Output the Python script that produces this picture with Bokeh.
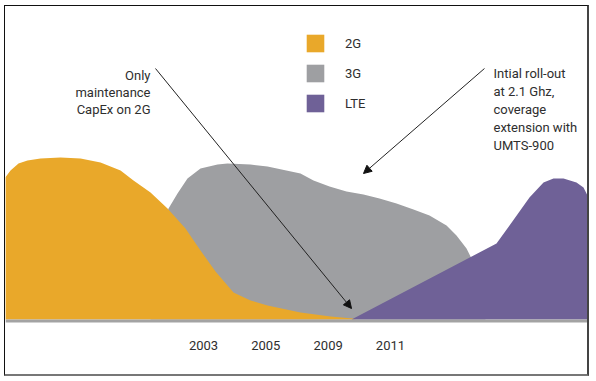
from bokeh.plotting import figure
from bokeh.models import (Range1d, FixedTicker, Span, Arrow, NormalHead, Legend, LegendItem)
from bokeh.core.properties import value
from bokeh.embed import file_html
from bokeh.resources import INLINE

# ---- data (x in period index units, y = relative CapEx level) ----
tick_pos = [3, 4, 5, 6]
tick_labels = ["2003", "2005", "2009", "2011"]

x_2g = [-0.18, -0.096, 0.032, 0.176, 0.385, 0.706, 1.027, 1.348, 1.669, 1.877, 2.150, 2.423,
        2.711, 2.952, 3.193, 3.481, 3.754, 4.027, 4.556, 5.038, 5.391, 5.455]
y_2g = [142, 149, 156, 159, 161, 162, 161, 157, 149, 139, 127, 111,
        91, 69, 48, 27, 19, 14, 7, 3, 1, 0]

x_3g = [2.150, 2.278, 2.391, 2.439, 2.583, 2.743, 2.952, 3.225, 3.385, 3.754, 4.027, 4.556,
        4.765, 5.022, 5.294, 5.567, 5.824, 6.097, 6.369, 6.626, 6.899, 7.059, 7.220, 7.316, 7.525]
y_3g = [0, 59, 101, 111, 126, 141, 151, 155, 156, 155, 153, 146,
        139, 133, 128, 125, 121, 116, 110, 104, 94, 84, 71, 59, 0]

x_lte = [5.375, 7.701, 7.910, 8.230, 8.455, 8.615, 8.776, 8.984, 9.097, 9.177, 9.193, 9.21, 9.25]
y_lte = [0, 76, 94, 122, 137, 141, 141, 137, 132, 122, 106, 100, 0]

series_names = ["2G", "3G", "LTE"]
colors = {"2G": "#E9A82A", "3G": "#9E9FA2", "LTE": "#6F6197"}

note_left = ["Only", "maintenance", "CapEx on 2G"]
note_right = ["Intial roll-out", "at 2.1 Ghz,", "coverage", "extension with", "UMTS-900"]

FONT = "Roboto"
TXT = "#2e2e2e"

p = figure(width=585, height=371,
           x_range=Range1d(-0.1765, 9.209), y_range=Range1d(-4, 313),
           output_backend="svg", toolbar_location=None,
           min_border_left=0, min_border_right=0, min_border_top=0, min_border_bottom=54,
           y_axis_location=None, outline_line_color=None)
p.styles = {"margin-left": "4px", "margin-top": "5px",
            "border-left": "1px solid #111", "border-top": "1px solid #111",
            "border-right": "2px solid #444", "border-bottom": "2px solid #777"}
p.xgrid.visible = False
p.ygrid.visible = False

r3 = p.varea(x=x_3g, y1=0, y2=y_3g, fill_color=colors["3G"])
r2 = p.varea(x=x_2g, y1=0, y2=y_2g, fill_color=colors["2G"])
r4 = p.varea(x=x_lte, y1=0, y2=y_lte, fill_color=colors["LTE"])

p.add_layout(Span(location=-1.5, dimension="width", line_color="#A3A3A3", line_width=3))

ax = p.xaxis[0]
ax.ticker = FixedTicker(ticks=tick_pos)
ax.major_label_overrides = {t: l for t, l in zip(tick_pos, tick_labels)}
ax.axis_line_color = None
ax.major_tick_line_color = None
ax.minor_tick_line_color = None
ax.major_label_standoff = 11
ax.major_label_text_font = FONT
ax.major_label_text_font_size = "13px"
ax.major_label_text_color = TXT

# annotations
p.text(x=[2.15] * 3, y=[244, 227, 210], text=note_left, text_align="right",
       text_baseline="middle", text_font=value(FONT), text_font_size="13px", text_color=TXT)
p.text(x=[7.653] * 5, y=[246.5, 228.5, 210.5, 192.5, 174.5], text=note_right, text_align="left",
       text_baseline="middle", text_font=value(FONT), text_font_size="13px", text_color=TXT)

p.add_layout(Arrow(end=NormalHead(size=8, fill_color="#111", line_color="#111"),
                   x_start=2.23, y_start=251, x_end=5.375, y_end=11,
                   line_color="#222", line_width=1))
p.add_layout(Arrow(end=NormalHead(size=8, fill_color="#111", line_color="#111"),
                   x_start=7.508, y_start=251, x_end=5.567, y_end=146,
                   line_color="#222", line_width=1))

legend = Legend(items=[LegendItem(label=n, renderers=[r]) for n, r in zip(series_names, [r2, r3, r4])],
                location=(299, 209), orientation="vertical",
                glyph_width=22, glyph_height=22, spacing=8, padding=0, margin=0,
                label_standoff=19, label_text_font=FONT, label_text_font_size="13px",
                label_text_color=TXT, border_line_color=None, background_fill_alpha=0)
p.add_layout(legend)

open("out.html", "w").write(file_html(p, INLINE))
